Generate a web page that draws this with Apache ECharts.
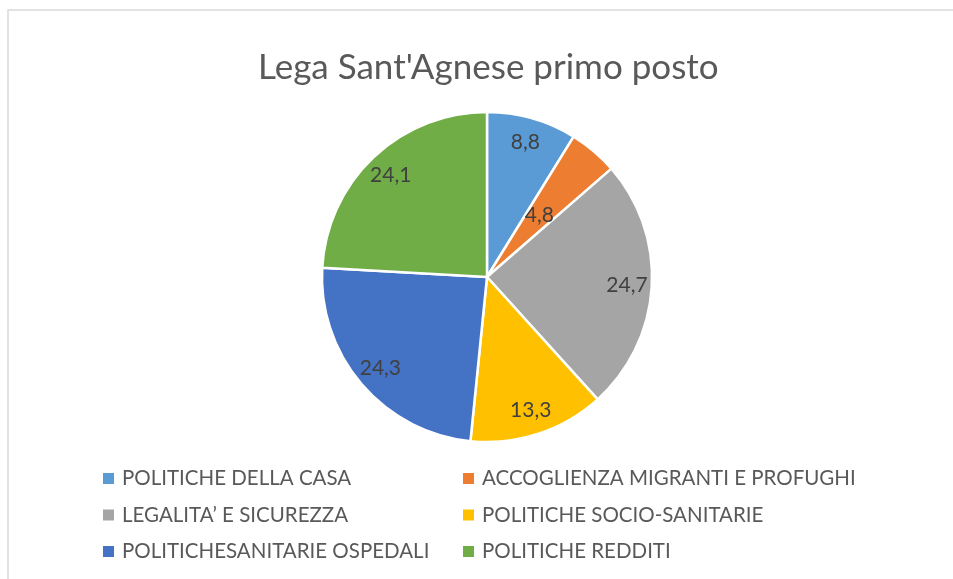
<!DOCTYPE html>
<html>
<head>
<meta charset="utf-8">
<script src="https://cdn.jsdelivr.net/npm/echarts@6/dist/echarts.min.js"></script>
<style>
  html, body { margin: 0; padding: 0; background: #fff; }
  #chart { width: 953px; height: 579px; }
</style>
</head>
<body>
<div id="chart"></div>
<script>
    // Dati del grafico
    const titolo = "Lega Sant'Agnese primo posto";
    const categorie = [
        "POLITICHE DELLA CASA",
        "ACCOGLIENZA MIGRANTI E PROFUGHI",
        "LEGALITA’ E SICUREZZA",
        "POLITICHE SOCIO-SANITARIE",
        "POLITICHESANITARIE OSPEDALI",
        "POLITICHE REDDITI"
    ];
    const valori = [8.8, 4.8, 24.7, 13.3, 24.3, 24.1];
    const colori = ["#5B9BD5", "#ED7D31", "#A5A5A5", "#FFC000", "#4472C4", "#70AD47"];

    const cx = 487, cy = 277, R = 165;
    const totale = valori.reduce((a, b) => a + b, 0);

    const myChart = echarts.init(document.getElementById("chart"));

    // legenda su due colonne
    const legendBase = {
        orient: "vertical",
        top: 468,
        padding: 0,
        icon: "rect",
        itemWidth: 13,
        itemHeight: 13,
        itemGap: 15.5,
        selectedMode: false,
        textStyle: {
            fontFamily: "Lato",
            fontSize: 20.5,
            lineHeight: 20,
            color: "#595959",
            padding: [0, 0, 0, 2]
        }
    };

    const option = {
        animation: false,
        backgroundColor: "#fff",
        title: {
            text: titolo,
            left: 253,
            top: 45,
            textStyle: { fontFamily: "Lato", fontSize: 35, fontWeight: "normal", color: "#595959" }
        },
        graphic: [{
            type: "rect",
            shape: { x: 8, y: 10, width: 1000, height: 1000 },
            style: { fill: "none", stroke: "#d9d9d9", lineWidth: 1.5 },
            silent: true
        }],
        legend: [
            Object.assign({}, legendBase, { left: 101, data: [categorie[0], categorie[2], categorie[4]] }),
            Object.assign({}, legendBase, { left: 461, data: [categorie[1], categorie[3], categorie[5]] })
        ],
        series: [{
            type: "pie",
            center: [cx, cy],
            radius: R,
            startAngle: 90,
            clockwise: true,
            avoidLabelOverlap: false,
            emphasis: { disabled: true },
            itemStyle: { borderColor: "#fff", borderWidth: 2.5 },
            label: {
                show: true,
                position: "inside",
                fontFamily: "Lato",
                fontSize: 21,
                color: "#404040",
                formatter: p => String(p.value).replace(".", ",")
            },
            labelLine: { show: false },
            // posizione delle etichette come in Excel (best fit)
            labelLayout: function (p) {
                const i = p.dataIndex;
                let prima = 0;
                for (let k = 0; k < i; k++) prima += valori[k];
                const mid = (prima + valori[i] / 2) / totale * Math.PI * 2;
                const f = i === 1 ? 0.49 : 0.85;
                return {
                    x: cx + R * f * Math.sin(mid),
                    y: cy - R * f * Math.cos(mid),
                    align: "center",
                    verticalAlign: "middle"
                };
            },
            data: categorie.map((nome, i) => ({
                name: nome,
                value: valori[i],
                itemStyle: { color: colori[i] }
            }))
        }]
    };

    myChart.setOption(option);
    window.addEventListener("resize", () => myChart.resize());
</script>
</body>
</html>
